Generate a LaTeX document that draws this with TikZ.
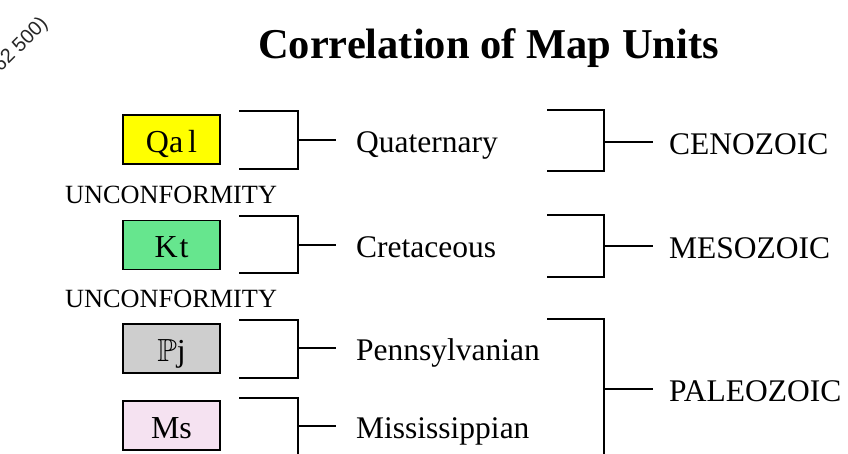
\documentclass[tikz,border=0pt]{standalone}
\usepackage{amssymb}
\usepackage{fontspec}
\setmainfont{Liberation Serif}
\newfontfamily\scalefont{Liberation Sans}

\definecolor{qalfill}{RGB}{255,255,0}
\definecolor{ktfill}{RGB}{102,230,142}
\definecolor{pjfill}{RGB}{206,206,206}
\definecolor{msfill}{RGB}{245,226,241}

\tikzset{
  unitbox/.style={draw,line width=1.8pt,minimum width=97pt,minimum height=49pt,inner sep=0pt,
    text height=25pt,text depth=0pt,font=\fontsize{32}{32}\selectfont},
  period/.style={anchor=west,inner xsep=20pt,inner ysep=0pt,text height=25pt,text depth=0pt,
    font=\fontsize{31.5}{32}\selectfont},
  era/.style={period,inner xsep=16pt},
  uncon/.style={anchor=base west,inner sep=0pt,font=\fontsize{26.3}{27}\selectfont},
  bracket/.style={line width=2.2pt},
}

\begin{document}
\begin{tikzpicture}[x=1pt,y=-1pt]
  \useasboundingbox (0,0) rectangle (848,453);
  \clip (0,0) rectangle (848,453);

  % title and scale note
  \node[anchor=base,inner sep=0pt,font=\fontsize{42.5}{46}\selectfont\bfseries] (title) at (488.5,58) {Correlation of Map Units};
  \node[anchor=east,inner sep=0pt,rotate=45,text=black!85,font=\scalefont\fontsize{20}{20}\selectfont] (scale) at (45,21) {62 500)};

  % map units
  \node[unitbox,fill=qalfill] (qal) at (171.5,139.5) {Qa\kern5pt l};
  \node[unitbox,fill=ktfill] (kt) at (171.5,245) {K\kern2pt t};
  \node[unitbox,fill=pjfill] (pj) at (171.5,348.5) {$\mathbb{P}$j};
  \node[unitbox,fill=msfill] (ms) at (171.5,425.5) {Ms};
  \node[uncon] (unc1) at (65,203) {UNCONFORMITY};
  \node[uncon] (unc2) at (65,307) {UNCONFORMITY};

  % periods
  \node[period] (quat) at (336,140) {Quaternary};
  \node[period] (cret) at (336,245) {Cretaceous};
  \node[period] (penn) at (336,348) {Pennsylvanian};
  \node[period] (miss) at (336,426) {Mississippian};

  % eras
  \node[era] (ceno) at (653,142) {CENOZOIC};
  \node[era] (meso) at (653,246) {MESOZOIC};
  \node[era] (paleo) at (653,389) {PALEOZOIC};

  % unit brackets
  \draw[bracket] (239,111) -| (298,169) -- (239,169);
  \draw[bracket] (239,216) -| (298,273) -- (239,273);
  \draw[bracket] (239,320) -| (298,378) -- (239,378);
  \draw[bracket] (239,398) -| (298,470);
  \coordinate (qalb) at (298,140);
  \coordinate (ktb) at (298,245);
  \coordinate (pjb) at (298,348);
  \coordinate (msb) at (298,426);
  \draw[bracket] (qalb) -- (quat.west);
  \draw[bracket] (ktb) -- (cret.west);
  \draw[bracket] (pjb) -- (penn.west);
  \draw[bracket] (msb) -- (miss.west);

  % era brackets
  \draw[bracket] (547,110) -| (604,171) -- (547,171);
  \draw[bracket] (547,215) -| (604,277) -- (547,277);
  \draw[bracket] (547,319) -| (604,470);
  \coordinate (cenob) at (604,142);
  \coordinate (mesob) at (604,246);
  \coordinate (paleob) at (604,389);
  \draw[bracket] (cenob) -- (ceno.west);
  \draw[bracket] (mesob) -- (meso.west);
  \draw[bracket] (paleob) -- (paleo.west);
\end{tikzpicture}
\end{document}
